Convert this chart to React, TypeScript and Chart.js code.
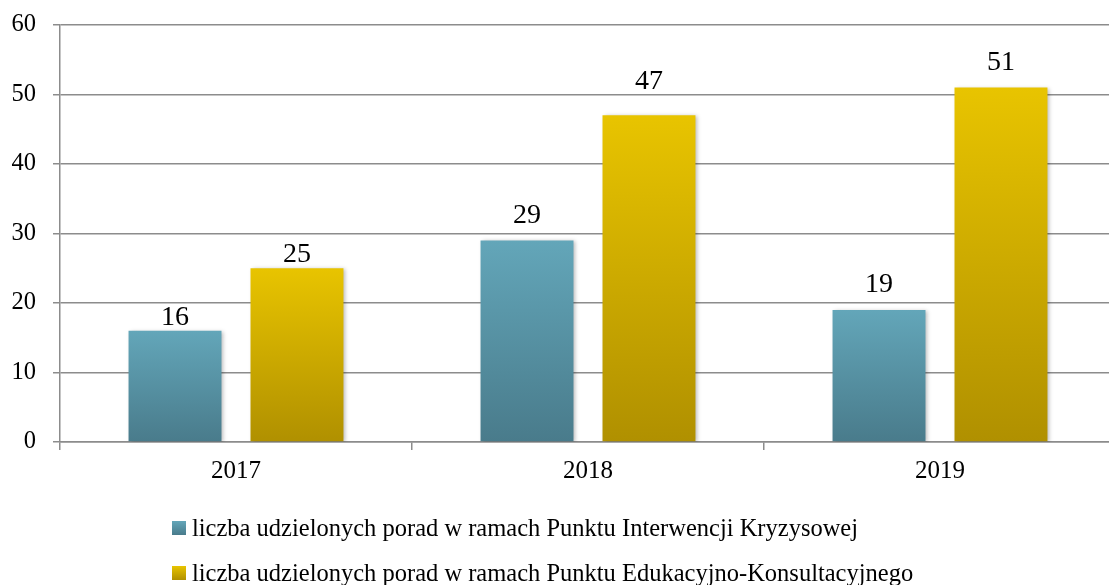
import React, { useEffect, useRef } from "react";
import { Chart, registerables } from "chart.js";

Chart.register(...registerables);

const categories = ["2017", "2018", "2019"];
const seriesLabels = [
  "liczba udzielonych porad w ramach Punktu Interwencji Kryzysowej",
  "liczba udzielonych porad w ramach Punktu Edukacyjno-Konsultacyjnego",
];
const interwencjaValues = [16, 29, 19];
const edukacjaValues = [25, 47, 51];
const yMin = 0;
const yMax = 60;
const yStep = 10;

// gap (px) between each value label's baseline and its bar top, per series
const labelGaps = [
  [6, 17, 18],
  [6, 26, 18],
];

const FONT = "'Liberation Serif', 'Times New Roman', serif";
const TICK_FS = 24.5;
const VALUE_FS = 28;
const LEGEND_FS = 24.5;
const GRID = "#8c8c8c";
const blueStops = ["#63a6b9", "#497b8b"];
const goldStops = ["#e8c400", "#b09000"];

function makeGradient(stops: string[]) {
  return (ctx: any) => {
    const chart = ctx.chart;
    if (!chart.chartArea || ctx.type !== "data") return stops[0];
    const y = chart.scales.y;
    const top = y.getPixelForValue(ctx.raw);
    const bottom = y.getPixelForValue(0);
    const g = chart.ctx.createLinearGradient(0, top, 0, bottom);
    g.addColorStop(0, stops[0]);
    g.addColorStop(1, stops[1]);
    return g;
  };
}

const shadowPlugin = {
  id: "barShadow",
  beforeDatasetsDraw(chart: any) {
    const c = chart.ctx;
    c.save();
    c.shadowColor = "rgba(0,0,0,0.28)";
    c.shadowBlur = 4;
    c.shadowOffsetX = 2;
    c.shadowOffsetY = 1;
  },
  afterDatasetsDraw(chart: any) {
    chart.ctx.restore();
  },
};

const labelsPlugin = {
  id: "valueLabels",
  afterDraw(chart: any) {
    const c = chart.ctx;
    c.save();
    c.font = `${VALUE_FS}px ${FONT}`;
    c.fillStyle = "#000";
    c.textAlign = "center";
    c.textBaseline = "alphabetic";
    chart.data.datasets.forEach((ds: any, di: number) => {
      const meta = chart.getDatasetMeta(di);
      meta.data.forEach((el: any, i: number) => {
        c.fillText(String(ds.data[i]), el.x, el.y - labelGaps[di][i]);
      });
    });
    c.restore();
  },
};

const legendPlugin = {
  id: "customLegend",
  afterDraw(chart: any) {
    const c = chart.ctx;
    c.save();
    c.font = `${LEGEND_FS}px ${FONT}`;
    c.fillStyle = "#000";
    c.textAlign = "left";
    c.textBaseline = "alphabetic";
    const stopsList = [blueStops, goldStops];
    const baselines = [536, 581];
    seriesLabels.forEach((label, i) => {
      const b = baselines[i];
      const g = c.createLinearGradient(0, b - 15, 0, b - 1);
      g.addColorStop(0, stopsList[i][0]);
      g.addColorStop(1, stopsList[i][1]);
      c.fillStyle = g;
      c.fillRect(172, b - 15, 14, 14);
      c.fillStyle = "#000";
      c.fillText(label, 192, b);
    });
    c.restore();
  },
};

export default function App() {
  const ref = useRef<HTMLCanvasElement>(null);
  useEffect(() => {
    if (!ref.current) return;
    const chart = new Chart(ref.current, {
      type: "bar",
      data: {
        labels: categories,
        datasets: [
          {
            label: seriesLabels[0],
            data: interwencjaValues,
            backgroundColor: makeGradient(blueStops),
            categoryPercentage: 0.693,
            barPercentage: 0.762,
          },
          {
            label: seriesLabels[1],
            data: edukacjaValues,
            backgroundColor: makeGradient(goldStops),
            categoryPercentage: 0.693,
            barPercentage: 0.762,
          },
        ],
      },
      options: {
        animation: false,
        responsive: false,
        maintainAspectRatio: false,
        layout: { padding: { top: 25, left: 0, right: 0, bottom: 99 } },
        plugins: {
          legend: { display: false },
          tooltip: { enabled: false },
        },
        scales: {
          x: {
            grid: {
              display: true,
              offset: true,
              drawOnChartArea: false,
              drawTicks: true,
              tickLength: 8,
              color: GRID,
              lineWidth: 1.5,
            },
            border: { display: true, color: GRID, width: 1.5 },
            ticks: {
              color: "#000",
              font: { family: FONT, size: 25 },
              padding: 6,
            },
            afterFit(scale: any) {
              scale.height = 44;
              scale.paddingLeft = 0;
              scale.paddingRight = 0;
            },
          },
          y: {
            min: yMin,
            max: yMax,
            grid: {
              color: GRID,
              lineWidth: 1.5,
              tickLength: 7,
              drawTicks: true,
            },
            border: { display: true, color: GRID, width: 1.5 },
            ticks: {
              stepSize: yStep,
              color: "#000",
              font: { family: FONT, size: TICK_FS },
              padding: 17,
            },
            afterFit(scale: any) {
              scale.width = 60;
              scale.paddingTop = 0;
              scale.paddingBottom = 0;
            },
          },
        },
      },
      plugins: [shadowPlugin, labelsPlugin, legendPlugin],
    });
    return () => chart.destroy();
  }, []);
  return (
    <div
      style={{
        position: "fixed",
        left: 0,
        top: 0,
        width: 1109,
        height: 585,
        overflow: "hidden",
        background: "#fff",
      }}
    >
      <canvas ref={ref} width={1116} height={585} style={{ display: "block", width: 1116, height: 585 }} />
    </div>
  );
}
